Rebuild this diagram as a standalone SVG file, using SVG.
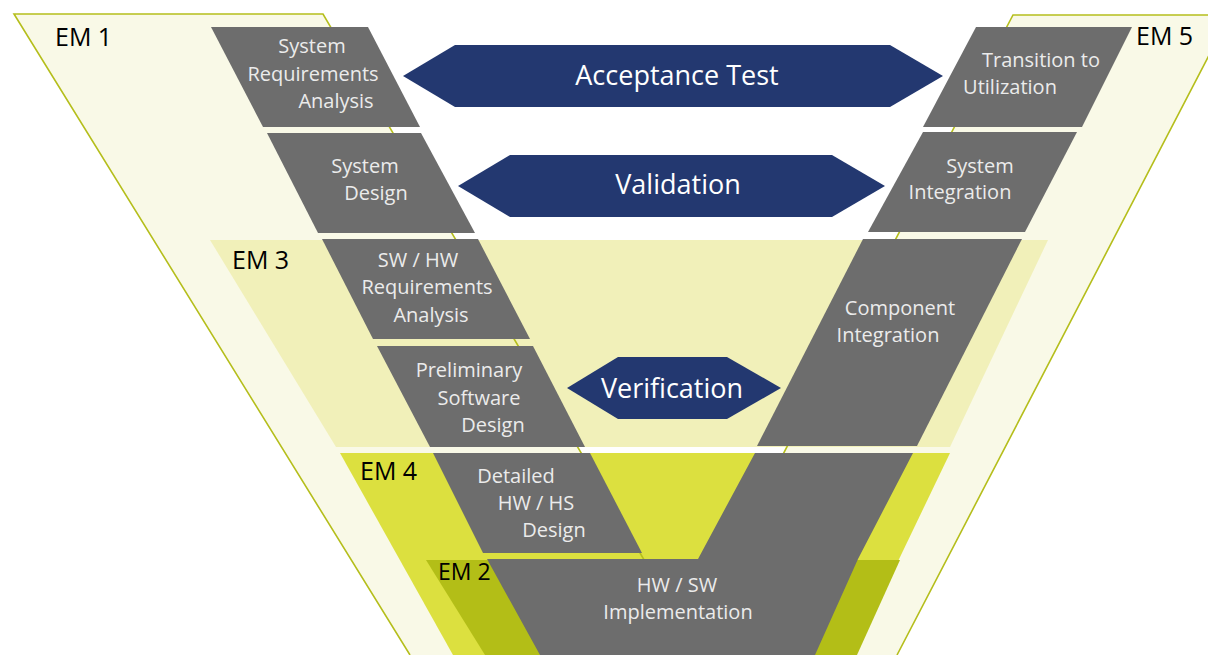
<svg xmlns="http://www.w3.org/2000/svg" width="1208" height="655" viewBox="0 0 1208 655">
<style>
.cream{fill:#f9f9e7}
.em3{fill:#f1f0b9}
.em4{fill:#dce03f}
.em2{fill:#b3be17}
.edge{fill:none;stroke:#b5be1c;stroke-width:1.6;stroke-linejoin:miter}
.blk{fill:#6d6d6d}
.bt{font-family:'Open Sans','Noto Sans','Liberation Sans',sans-serif;font-size:20px;fill:#ebebeb;text-anchor:middle}
.arw{fill:#233870}
.at{font-family:'Open Sans','Noto Sans','Liberation Sans',sans-serif;font-size:27px;fill:#ffffff;text-anchor:middle}
.em{font-family:'Open Sans','Noto Sans','Liberation Sans',sans-serif;font-size:25px;fill:#000000}
</style>
<rect width="1208" height="655" fill="#ffffff"/>
<g id="em1-area">
<polygon class="cream" points="14,14 323,14 700,655 410,655"/>
</g>
<g id="em5-area">
<polygon class="cream" points="1013,15 1230,15 897,655 678,655"/>
</g>
<g id="em3-area">
<polygon class="em3" points="210,240 1048,240 950,447 336,447"/>
</g>
<g id="em4-area">
<polygon class="em4" points="340,453 950,453 853,655 453,655"/>
</g>
<g id="em2-area">
<polygon class="em2" points="426,560 900,560 857,655 485,655"/>
</g>
<g id="edges">
<path class="edge" d="M410,655 L14,14 L323,14 L700,655"/>
<path class="edge" d="M678,655 L1013,15 L1230,15 L897,655"/>
</g>
<g id="n-sys-req">
<polygon class="blk" points="211,27 368,27 420,127 263,127"/>
<text class="bt"><tspan x="312" y="53">System</tspan><tspan x="313" y="81">Requirements</tspan><tspan x="336" y="108">Analysis</tspan></text>
</g>
<g id="n-sys-design">
<polygon class="blk" points="267,133 421,133 475,233 318,233"/>
<text class="bt"><tspan x="365" y="173">System</tspan><tspan x="376" y="200">Design</tspan></text>
</g>
<g id="n-swhw-req">
<polygon class="blk" points="322,239 478,239 530,339 373,339"/>
<text class="bt"><tspan x="418" y="267">SW / HW</tspan><tspan x="427" y="294">Requirements</tspan><tspan x="431" y="322">Analysis</tspan></text>
</g>
<g id="n-prelim">
<polygon class="blk" points="377,346 533,346 585,447 430,447"/>
<text class="bt"><tspan x="469" y="377">Preliminary</tspan><tspan x="479" y="405">Software</tspan><tspan x="493" y="432">Design</tspan></text>
</g>
<g id="n-detailed">
<polygon class="blk" points="433,453 590,453 642,553 483,553"/>
<text class="bt"><tspan x="516" y="483">Detailed</tspan><tspan x="536" y="510">HW / HS</tspan><tspan x="554" y="537">Design</tspan></text>
</g>
<g id="n-impl">
<polygon class="blk" points="487,559 698,559 755,453 913,453 858,559 815,655 540,655"/>
<text class="bt"><tspan x="677" y="592">HW / SW</tspan><tspan x="678" y="619">Implementation</tspan></text>
</g>
<g id="n-component">
<polygon class="blk" points="863,239 1022,239 917,446 757,446"/>
<text class="bt"><tspan x="900" y="315">Component</tspan><tspan x="888" y="342">Integration</tspan></text>
</g>
<g id="n-sys-int">
<polygon class="blk" points="923,132 1077,132 1025,232 868,232"/>
<text class="bt"><tspan x="980" y="173">System</tspan><tspan x="960" y="199">Integration</tspan></text>
</g>
<g id="n-transition">
<polygon class="blk" points="976,27 1132,27 1082,127 923,127"/>
<text class="bt"><tspan x="1041" y="67">Transition to</tspan><tspan x="1010" y="94">Utilization</tspan></text>
</g>
<g id="connectors">
<g id="c-acceptance">
<polygon class="arw" points="403,76 455,45 890,45 943,76 890,107 455,107"/>
<text class="at" x="677" y="85">Acceptance Test</text>
</g>
<g id="c-validation">
<polygon class="arw" points="458,186 510,155 832,155 885,186 832,217 510,217"/>
<text class="at" x="678" y="194">Validation</text>
</g>
<g id="c-verification">
<polygon class="arw" points="567,388 618,357 727,357 781,388 727,419 618,419"/>
<text class="at" x="672" y="398">Verification</text>
</g>
</g>
<g id="labels">
<text class="em" x="55" y="46">EM 1</text>
<text class="em" x="1136" y="45">EM 5</text>
<text class="em" x="232" y="269">EM 3</text>
<text class="em" x="360" y="480">EM 4</text>
<text class="em" x="438" y="580" style="font-size:23px">EM 2</text>
</g>
</svg>
